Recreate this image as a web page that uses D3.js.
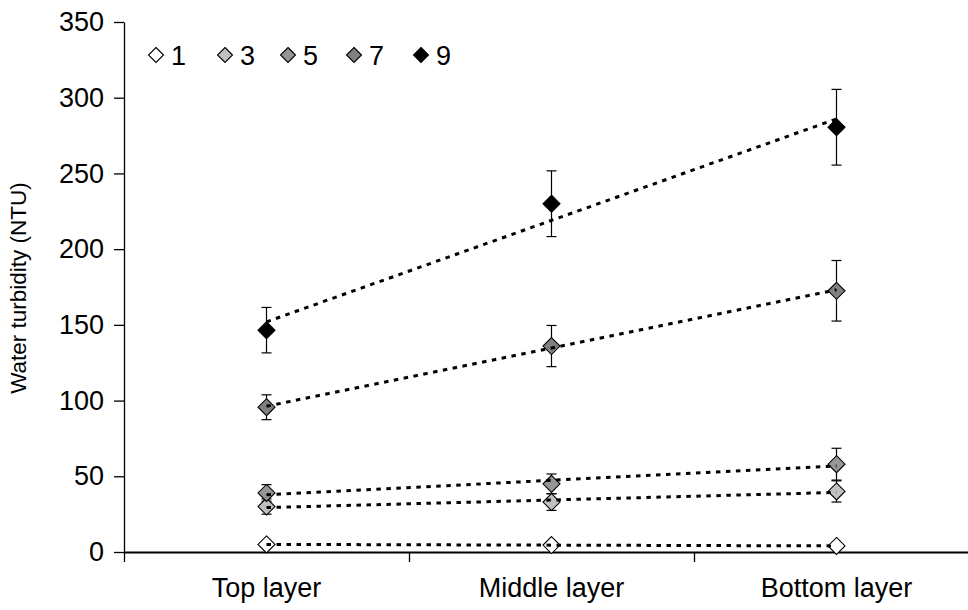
<!DOCTYPE html>
<html>
<head>
<meta charset="utf-8">
<script src="https://cdn.jsdelivr.net/npm/d3@7"></script>
<style>
  html, body { margin: 0; padding: 0; background: #fff; }
  svg { display: block; font-family: "Liberation Sans", Arial, sans-serif; }
</style>
</head>
<body>
<svg id="chart" width="968" height="610"></svg>
<script>
// ---- data ----
const categories = ["Top layer", "Middle layer", "Bottom layer"];
const seriesNames = ["1", "3", "5", "7", "9"];
const seriesColors = ["#ffffff", "#c0c0c0", "#969696", "#808080", "#000000"];
const values1 = [5, 4.6, 4];
const values3 = [30, 33, 40];
const values5 = [39, 45, 58];
const values7 = [95.6, 136, 172.5];
const values9 = [146.5, 230, 280.5];
const errors1 = [0.5, 0.5, 0.5];
const errors3 = [5, 5.5, 7];
const errors5 = [5.5, 6.5, 10.5];
const errors7 = [8.2, 13.6, 20];
const errors9 = [15, 21.7, 25];
const yTicks = [0, 50, 100, 150, 200, 250, 300, 350];

const series = [
  { name: seriesNames[0], color: seriesColors[0], values: values1, errors: errors1 },
  { name: seriesNames[1], color: seriesColors[1], values: values3, errors: errors3 },
  { name: seriesNames[2], color: seriesColors[2], values: values5, errors: errors5 },
  { name: seriesNames[3], color: seriesColors[3], values: values7, errors: errors7 },
  { name: seriesNames[4], color: seriesColors[4], values: values9, errors: errors9 }
];

// ---- layout ----
const svg = d3.select("#chart");
const mLeft = 124, mRight = 979, mTop = 22, mBottom = 552;

const x = d3.scaleBand().domain(categories).range([mLeft, mRight]).padding(0);
const xb = d3.scaleLinear().domain([0, 3]).range([mLeft, mRight]);
const y = d3.scaleLinear().domain([0, 350]).range([mBottom, mTop]);

// y axis
const yAxis = svg.append("g")
  .attr("transform", `translate(${mLeft},0)`)
  .call(d3.axisLeft(y).tickValues(yTicks).tickSize(10).tickSizeOuter(0).tickPadding(10));
yAxis.selectAll("text").attr("font-size", 27).attr("fill", "#000").attr("font-family", "Liberation Sans, Arial, sans-serif");
yAxis.selectAll("line,path").attr("stroke", "#000").attr("stroke-width", 1.3);

// x axis boundary ticks
const xAxis = svg.append("g")
  .attr("transform", `translate(0,${mBottom})`)
  .call(d3.axisBottom(xb).tickValues([0, 1, 2, 3]).tickSize(10).tickSizeOuter(0).tickFormat(""));
xAxis.select("path").attr("stroke", "#000").attr("stroke-width", 2.2);
xAxis.selectAll("line").attr("stroke", "#000").attr("stroke-width", 1.3);

// x category labels
const xLab = svg.append("g")
  .attr("transform", `translate(0,${mBottom})`)
  .call(d3.axisBottom(x).tickSize(0).tickPadding(26));
xLab.select("path").remove();
xLab.selectAll("text").attr("font-size", 27).attr("fill", "#000").attr("font-family", "Liberation Sans, Arial, sans-serif");

// y label
svg.append("text")
  .attr("transform", `translate(26,288) rotate(-90)`)
  .attr("text-anchor", "middle")
  .attr("font-size", 22.5)
  .attr("fill", "#000")
  .text("Water turbidity (NTU)");

function diamondPath(r) {
  return `M0,${-r}L${r},0L0,${r}L${-r},0Z`;
}

const cx = c => x(c) + x.bandwidth() / 2;

// error bars
series.forEach(s => {
  const g = svg.append("g");
  categories.forEach((c, i) => {
    const v = s.values[i], e = s.errors[i];
    const xx = cx(c);
    g.append("line").attr("x1", xx).attr("x2", xx).attr("y1", y(v + e)).attr("y2", y(v - e))
      .attr("stroke", "#000").attr("stroke-width", 1.2);
    g.append("line").attr("x1", xx - 5).attr("x2", xx + 5).attr("y1", y(v + e)).attr("y2", y(v + e))
      .attr("stroke", "#000").attr("stroke-width", 1.2);
    g.append("line").attr("x1", xx - 5).attr("x2", xx + 5).attr("y1", y(v - e)).attr("y2", y(v - e))
      .attr("stroke", "#000").attr("stroke-width", 1.2);
  });
});

// markers
series.forEach(s => {
  svg.append("g").selectAll("path").data(s.values).join("path")
    .attr("d", diamondPath(8.5))
    .attr("transform", (d, i) => `translate(${cx(categories[i])},${y(d)})`)
    .attr("fill", s.color)
    .attr("stroke", "#000")
    .attr("stroke-width", 1.1);
});

// linear trend lines (least squares on x = 1,2,3)
series.forEach(s => {
  const xs = [1, 2, 3];
  const n = xs.length;
  const mx = d3.mean(xs), my = d3.mean(s.values);
  let num = 0, den = 0;
  xs.forEach((xv, i) => { num += (xv - mx) * (s.values[i] - my); den += (xv - mx) * (xv - mx); });
  const slope = num / den, inter = my - slope * mx;
  const pts = [[cx(categories[0]), y(inter + slope * 1)], [cx(categories[n - 1]), y(inter + slope * 3)]];
  svg.append("path")
    .attr("d", d3.line()(pts))
    .attr("fill", "none")
    .attr("stroke", "#000")
    .attr("stroke-width", 3)
    .attr("stroke-dasharray", "4.5,5.5");
});

// legend
const legendX = [156, 225, 288, 354, 421];
const lg = svg.append("g");
series.forEach((s, i) => {
  lg.append("path").attr("d", diamondPath(7.5))
    .attr("transform", `translate(${legendX[i]},55)`)
    .attr("fill", s.color).attr("stroke", "#000").attr("stroke-width", 1.1);
  lg.append("text").attr("x", legendX[i] + 15).attr("y", 65)
    .attr("font-size", 27).attr("fill", "#000").text(s.name);
});
</script>
</body>
</html>
